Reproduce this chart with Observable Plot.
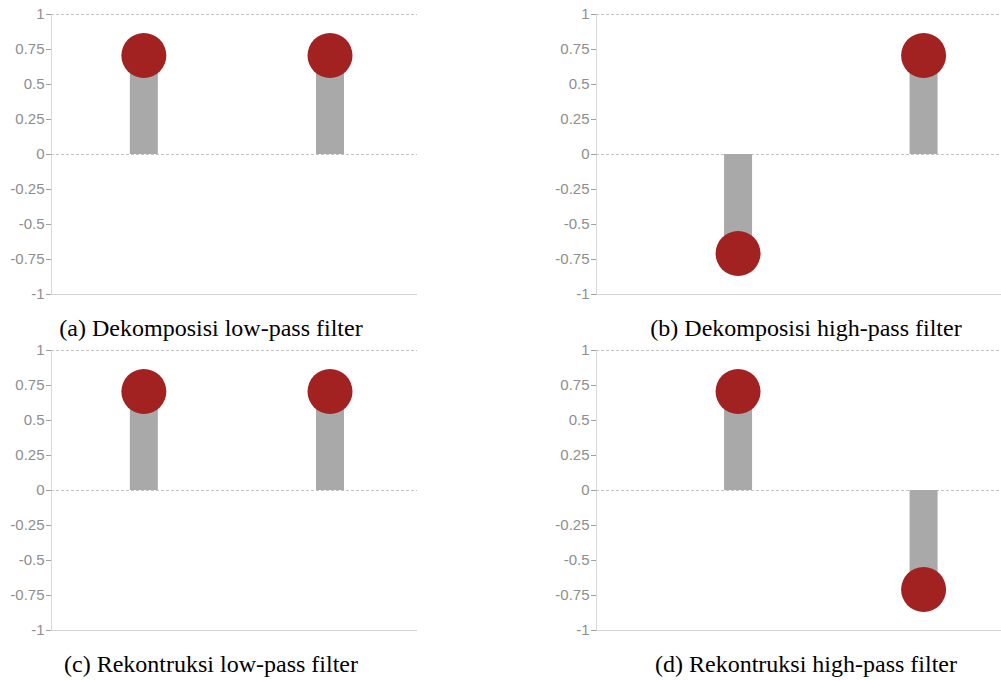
<!DOCTYPE html>
<html>
<head>
<meta charset="utf-8">
<script src="https://cdn.jsdelivr.net/npm/d3@7"></script>
<script src="https://cdn.jsdelivr.net/npm/@observablehq/plot@0.6"></script>
<style>
  html, body { margin: 0; padding: 0; background: #fff; }
  #page { position: relative; width: 1001px; height: 680px; overflow: hidden; }
  .panel { position: absolute; }
  .caption {
    position: absolute; transform: translateX(-50%); white-space: nowrap;
    font-family: "Liberation Serif", "Times New Roman", serif; font-size: 24px;
    line-height: 24px; color: #000;
  }
</style>
</head>
<body>
<div id="page"></div>
<script>
// Haar wavelet filter coefficients (±1/√2) for taps n = 0, 1
const taps = [0, 1];
const decLow  = [0.7071, 0.7071];
const decHigh = [-0.7071, 0.7071];
const recLow  = [0.7071, 0.7071];
const recHigh = [0.7071, -0.7071];

const yTicks = [-1, -0.75, -0.5, -0.25, 0, 0.25, 0.5, 0.75, 1];

const captions = [
  "(a) Dekomposisi low-pass filter",
  "(b) Dekomposisi high-pass filter",
  "(c) Rekontruksi low-pass filter",
  "(d) Rekontruksi high-pass filter"
];
const series = [decLow, decHigh, recLow, recHigh];

// panel placement on the page
const layout = [
  {left: 0,   top: 0,   width: 430, xDomain: [-0.496, 1.470], capX: 211, capY: 316},
  {left: 545, top: 0,   width: 456, xDomain: [-0.763, 1.420], capX: 806, capY: 316},
  {left: 0,   top: 336, width: 430, xDomain: [-0.496, 1.470], capX: 211, capY: 652},
  {left: 545, top: 336, width: 456, xDomain: [-0.763, 1.420], capX: 806, capY: 652}
];

const page = document.getElementById("page");

series.forEach((vals, i) => {
  const L = layout[i];
  const data = taps.map((n, k) => ({n, h: vals[k]}));
  const chart = Plot.plot({
    width: L.width,
    height: 300,
    marginLeft: 51,
    marginRight: L.left === 0 ? L.width - 417 : 0,
    marginTop: 14,
    marginBottom: 6,
    style: {background: "transparent", fontFamily: "'Liberation Sans', Arial, sans-serif", overflow: "visible"},
    x: {domain: L.xDomain, axis: null},
    y: {domain: [-1, 1], ticks: yTicks, tickFormat: d => String(d), tickSize: 5,
        label: null, fontSize: 15},
    marks: [
      Plot.ruleX([L.xDomain[0]], {y1: -1, y2: 1, stroke: "#d8d8d8", strokeWidth: 1}),
      Plot.ruleY([1, 0], {stroke: "#c4c4c4", strokeDasharray: "3,2"}),
      Plot.ruleY([-1], {stroke: "#d4d4d4"}),
      Plot.axisY({ticks: yTicks, tickFormat: d => String(d), tickSize: 5, tickPadding: 2,
                  fontSize: 15, color: "#8e8e8e", stroke: "#a0a0a0", label: null}),
      Plot.ruleX(data, {x: "n", y1: 0, y2: "h", stroke: "#a9a9a9", strokeWidth: 28, strokeLinecap: "butt"}),
      Plot.dot(data, {x: "n", y: "h", r: 22.5, fill: "#a22121", stroke: "none"})
    ]
  });
  chart.classList.add("panel");
  chart.style.left = L.left + "px";
  chart.style.top = L.top + "px";
  page.appendChild(chart);

  const cap = document.createElement("div");
  cap.className = "caption";
  cap.textContent = captions[i];
  cap.style.left = L.capX + "px";
  cap.style.top = L.capY + "px";
  page.appendChild(cap);
});
</script>
</body>
</html>
